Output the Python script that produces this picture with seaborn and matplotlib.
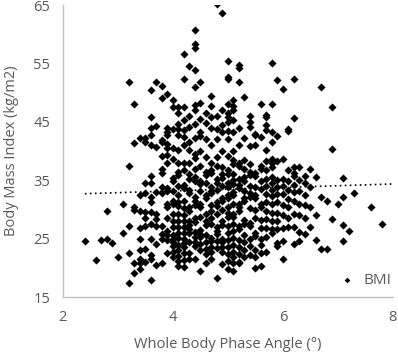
import numpy as np
import pandas as pd
import matplotlib
matplotlib.use("Agg")
import matplotlib.pyplot as plt
import seaborn as sns

# phase angle columns (x) and the BMI values (y)
angle_columns = [2.4, 2.6, 2.7, 2.8, 2.9, 3.0, 3.1, 3.2, 3.3, 3.4, 3.5, 3.6, 3.7, 3.8, 3.9,
                 4.0, 4.1, 4.2, 4.3, 4.4, 4.5, 4.6, 4.7, 4.8, 4.9, 5.0, 5.1, 5.2, 5.3, 5.4,
                 5.5, 5.6, 5.7, 5.8, 5.9, 6.0, 6.1, 6.2, 6.3, 6.4, 6.5, 6.6, 6.7, 6.8, 6.9,
                 7.0, 7.1, 7.2, 7.3, 7.6, 7.8]
bmi_columns = [
    [24.6],
    [21.3],
    [24.7],
    [24.9, 29.8],
    [24.3],
    [21.9],
    [30.9, 25.9],
    [51.8, 37.4, 27.1, 22.6, 17.5],
    [48.0, 41.3, 30.4, 30.0, 20.8, 19.2],
    [42.3, 32.5, 29.8, 26.8, 24.9, 23.0, 21.5, 20.8, 19.9],
    [42.2, 41.6, 34.6, 32.8, 29.6, 28.6, 27.2, 23.2, 21.1],
    [50.4, 45.9, 44.0, 42.7, 41.1, 35.7, 34.6, 32.2, 31.3, 29.6, 27.5, 25.0, 22.2, 21.6, 17.9],
    [51.9, 44.3, 40.7, 33.0, 29.3, 28.3, 27.1, 24.1, 20.5],
    [51.1, 49.0, 41.9, 41.5, 39.1, 37.0, 36.2, 33.8, 32.9, 27.2, 25.8, 25.0, 20.8],
    [49.8, 44.0, 43.3, 42.7, 41.2, 40.5, 39.3, 37.9, 33.6, 33.1, 31.0, 30.5, 28.5, 26.4, 25.6,
     24.8, 22.5],
    [48.8, 47.5, 43.7, 40.6, 38.7, 35.4, 34.8, 33.2, 31.5, 30.9, 29.2, 28.1, 27.0, 25.6, 25.0,
     24.4, 23.8, 22.8, 21.8],
    [47.5, 46.5, 44.6, 43.7, 42.7, 40.2, 37.9, 36.5, 35.9, 34.0, 32.5, 31.2, 30.6, 29.2, 28.1,
     27.0, 26.0, 25.2, 24.0, 23.0, 22.0, 21.2, 20.4],
    [56.6, 52.4, 47.5, 45.4, 43.6, 42.4, 41.0, 38.0, 36.8, 34.2, 33.6, 31.5, 30.2, 29.0, 28.1,
     27.0, 26.0, 25.0, 24.3, 23.5, 22.5, 21.4, 20.2],
    [54.6, 46.0, 44.2, 41.5, 40.1, 37.9, 36.0, 35.2, 33.4, 32.9, 30.5, 29.8, 28.1, 27.4, 26.6,
     25.9, 24.5, 22.6, 21.6],
    [60.7, 58.4, 57.7, 53.9, 50.9, 47.9, 47.1, 44.6, 42.2, 39.5, 38.8, 37.0, 35.6, 34.9, 32.2,
     31.5, 30.8, 28.5, 27.9, 26.1, 25.3, 24.5, 23.8, 21.6],
    [51.9, 48.3, 45.5, 43.2, 42.5, 40.0, 37.5, 34.9, 34.3, 33.1, 31.0, 30.4, 28.8, 26.5, 25.8,
     25.3, 24.1, 23.0, 19.5],
    [46.5, 44.8, 42.1, 39.0, 36.5, 35.9, 34.5, 32.5, 31.9, 29.3, 28.0, 27.4, 25.6, 24.4, 23.2,
     22.3, 20.9],
    [49.4, 47.8, 45.8, 44.0, 41.0, 38.0, 36.8, 36.2, 33.8, 33.2, 32.8, 30.8, 29.8, 28.6, 27.5,
     25.2, 24.6, 23.6, 22.8, 21.5],
    [65.1, 46.0, 43.8, 42.0, 39.0, 37.5, 35.3, 34.6, 33.3, 31.3, 30.6, 29.3, 27.0, 26.3, 25.8,
     24.6, 23.4, 18.2],
    [63.7, 47.0, 44.5, 43.2, 40.0, 37.2, 36.0, 35.4, 34.0, 32.0, 31.4, 30.0, 28.0, 27.4, 25.0,
     24.4, 23.6, 22.8, 20.6],
    [55.4, 52.6, 52.4, 48.0, 46.6, 45.8, 45.0, 43.5, 42.0, 39.2, 36.8, 36.1, 34.6, 33.9, 32.5,
     31.9, 30.5, 29.4, 28.7, 27.2, 26.0, 24.8, 23.5, 22.3, 21.2, 19.9],
    [48.7, 47.8, 47.0, 45.3, 43.2, 40.0, 38.5, 37.8, 36.0, 35.0, 34.4, 33.0, 32.4, 31.0, 29.3,
     28.8, 27.6, 26.4, 25.2, 24.0, 22.8, 21.9, 20.9, 19.5],
    [54.7, 54.2, 51.9, 44.0, 41.0, 38.0, 37.4, 35.3, 34.2, 33.6, 31.0, 30.4, 29.8, 27.2, 26.6,
     24.8, 23.6, 22.4, 21.1, 20.9],
    [49.3, 42.2, 38.5, 37.0, 35.5, 34.9, 33.2, 32.0, 31.4, 28.2, 27.6, 25.7, 24.4, 23.0, 21.9],
    [46.0, 45.0, 44.2, 40.8, 37.8, 36.5, 35.9, 34.0, 32.8, 32.2, 30.3, 27.7, 27.1, 25.0, 23.8,
     22.2],
    [42.9, 42.7, 41.0, 36.3, 35.7, 33.8, 32.5, 31.9, 30.0, 28.6, 26.0, 25.4, 23.0, 21.8, 20.0],
    [48.0, 42.4, 37.5, 36.9, 34.8, 33.5, 31.0, 30.4, 28.2, 26.8, 25.0, 24.0, 22.5, 20.4],
    [46.2, 45.8, 44.5, 43.6, 40.2, 38.3, 36.8, 35.3, 34.0, 32.6, 31.2, 29.8, 28.3, 26.8, 25.3,
     22.8],
    [55.0, 48.0, 43.3, 41.6, 38.6, 37.9, 37.3, 35.6, 34.5, 33.4, 32.3, 31.0, 29.4, 28.0, 26.6,
     25.9],
    [52.1, 42.5, 38.3, 35.0, 33.8, 32.6, 31.2, 29.4, 28.0, 26.6, 24.2, 23.8],
    [50.7, 38.7, 35.2, 34.0, 32.6, 30.8, 29.0, 26.9, 24.6, 21.6],
    [43.7, 43.4, 36.7, 34.8, 33.4, 31.8, 30.5, 28.5, 27.0],
    [52.3, 45.7, 37.3, 36.2, 35.7, 34.2, 33.0, 31.5, 29.2, 27.0, 24.1],
    [37.3, 35.0, 33.2, 31.0, 29.0, 26.2, 24.6],
    [35.7, 34.5, 32.5, 30.8, 28.6, 25.8],
    [37.0, 33.8, 30.5, 27.0],
    [35.6, 29.0, 24.7],
    [50.9, 32.2, 23.3],
    [31.5, 23.3],
    [47.6, 40.3, 28.4],
    [31.0],
    [35.4, 32.2, 27.3, 24.6],
    [26.4],
    [32.8],
    [30.5],
    [27.6],
]

rows = [(a, b) for a, col in zip(angle_columns, bmi_columns) for b in col]
df = pd.DataFrame(rows, columns=["phase_angle", "bmi"])

sns.set_theme(style="white")
plt.rcParams["font.family"] = ["Open Sans", "DejaVu Sans"]

fig = plt.figure(figsize=(3.98, 3.58), dpi=100)
ax = fig.add_axes([0.158, 0.170, 0.829, 0.816])

sns.scatterplot(data=df, x="phase_angle", y="bmi", marker="D", color="black",
                s=17, linewidth=0, label="BMI", ax=ax)

# linear trendline, dotted, from the first point out to the axis end
slope, intercept = np.polyfit(df["phase_angle"], df["bmi"], 1)
xs = np.array([df["phase_angle"].min(), 8])
ax.plot(xs, slope * xs + intercept, color="black", linestyle=(0, (1, 2)), linewidth=1.2)

ax.set_xlim(2, 8)
ax.set_ylim(15, 65)
ax.set_xticks([2, 4, 6, 8])
ax.set_yticks([15, 25, 35, 45, 55, 65])
ax.tick_params(axis="both", length=0, labelsize=10.5, labelcolor="#595959")
ax.tick_params(axis="x", pad=9)
ax.tick_params(axis="y", pad=9)
for s in ["top", "right"]:
    ax.spines[s].set_visible(False)
for s in ["left", "bottom"]:
    ax.spines[s].set_color("#BFBFBF")
    ax.spines[s].set_linewidth(1)

ax.set_xlabel("Whole Body Phase Angle (°)", fontsize=10.5, color="#595959", labelpad=9)
ax.set_ylabel("Body Mass Index (kg/m2)", fontsize=10.5, color="#595959", labelpad=10)

leg = ax.legend(loc="lower right", bbox_to_anchor=(1.0, 0.025), frameon=False,
                fontsize=11, handletextpad=0.1, markerscale=0.7, borderaxespad=0,
                borderpad=0.1)
for t in leg.get_texts():
    t.set_color("#595959")

fig.savefig("out.png", dpi=100)
